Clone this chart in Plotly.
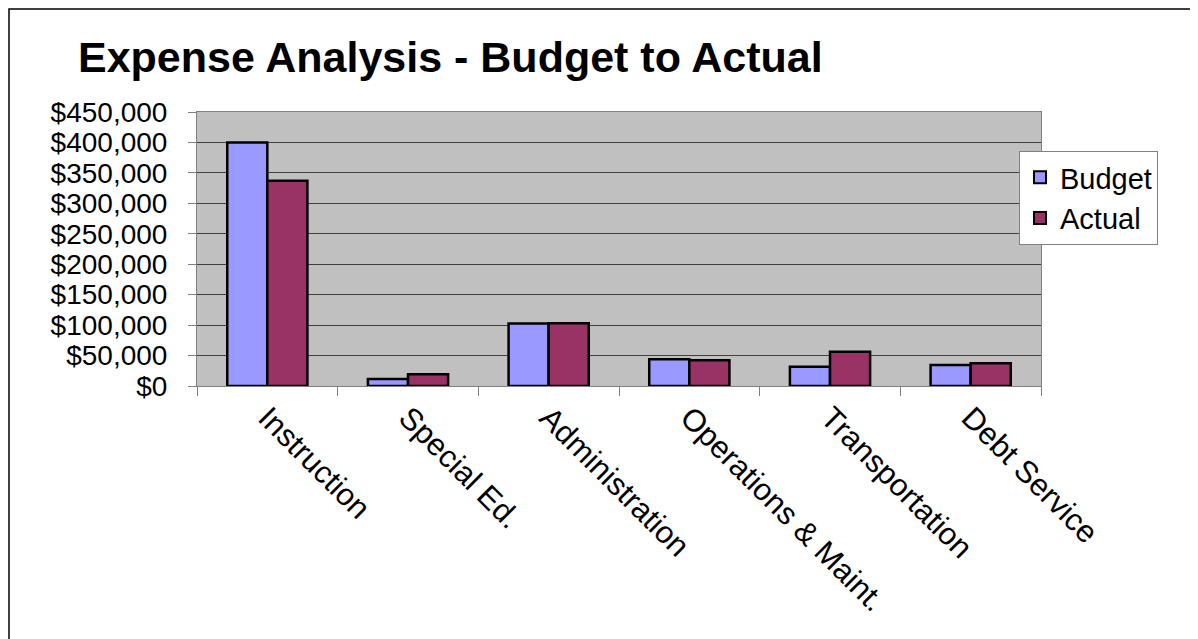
import plotly.graph_objects as go

categories = ["Instruction", "Special Ed.", "Administration", "Operations & Maint.", "Transportation", "Debt Service"]
budget = [400000, 11500, 102500, 43800, 31800, 34500]
actual = [337000, 19200, 103000, 42200, 56400, 37200]
y_ticks = [0, 50000, 100000, 150000, 200000, 250000, 300000, 350000, 400000, 450000]
y_tick_labels = ["$0", "$50,000", "$100,000", "$150,000", "$200,000", "$250,000",
                 "$300,000", "$350,000", "$400,000", "$450,000"]

FONT = "Arial, Liberation Sans, sans-serif"

fig = go.Figure()
fig.add_trace(go.Bar(name="Budget", x=categories, y=budget,
                     marker=dict(color="#9999FF", line=dict(color="#000000", width=2.5))))
fig.add_trace(go.Bar(name="Actual", x=categories, y=actual,
                     marker=dict(color="#993366", line=dict(color="#000000", width=2.5))))

# page has an 8px body offset
OFF = 8
W, H = 1198, 639
L, T = 197 - OFF, 112 - OFF
PW, PH = 1041 - 197, 386 - 112
R = W - L - PW
B = H - T - PH

def px_to_paper_x(px):
    return (px - OFF - L) / PW

def px_to_paper_y(py):
    return (T + PH - (py - OFF)) / PH

fig.update_layout(
    width=W, height=H,
    margin=dict(l=L, r=R, t=T, b=B, pad=0),
    paper_bgcolor="white",
    plot_bgcolor="#C0C0C0",
    barmode="group",
    bargap=0.43,
    bargroupgap=0,
    font=dict(family=FONT, color="black", size=28),
    title=dict(text="<b>Expense Analysis - Budget to Actual</b>",
               font=dict(family=FONT, size=43, color="black"),
               x=(78 - OFF) / W, xanchor="left", y=1 - (57 - OFF) / H, yanchor="middle"),
    legend=dict(x=px_to_paper_x(1019), xanchor="left", y=px_to_paper_y(151), yanchor="top",
                bgcolor="white", bordercolor="#808080", borderwidth=1,
                font=dict(family=FONT, size=29, color="black"),
                itemsizing="constant", tracegroupgap=0, itemwidth=30),
    showlegend=True,
    xaxis=dict(
        showline=True, linecolor="#808080", linewidth=1,
        ticks="outside", ticklen=9, tickcolor="#808080", tickwidth=1,
        tickson="boundaries",
        tickangle=45,
        tickfont=dict(family=FONT, size=31, color="black"),
        showgrid=False,
        mirror=True,
    ),
    yaxis=dict(
        range=[0, 450000],
        tickvals=y_ticks, ticktext=y_tick_labels,
        showline=True, linecolor="#808080", linewidth=1,
        ticks="outside", ticklen=8, tickcolor="#808080", tickwidth=1,
        ticklabelstandoff=15,
        tickfont=dict(family=FONT, size=28, color="black"),
        showgrid=True, gridcolor="#404040", gridwidth=1,
        zeroline=False,
        mirror=True,
    ),
)

# outer chart border (top and left edges visible), placed at the figure's edge
fig.add_shape(type="rect", xref="paper", yref="paper",
              x0=-(L - 1) / PW, x1=(W - L + 20) / PW,
              y0=-(B + 20) / PH, y1=1 + (T - 1) / PH,
              line=dict(color="#000000", width=1.5), fillcolor="rgba(0,0,0,0)", layer="below")

fig.write_html("out.html")
